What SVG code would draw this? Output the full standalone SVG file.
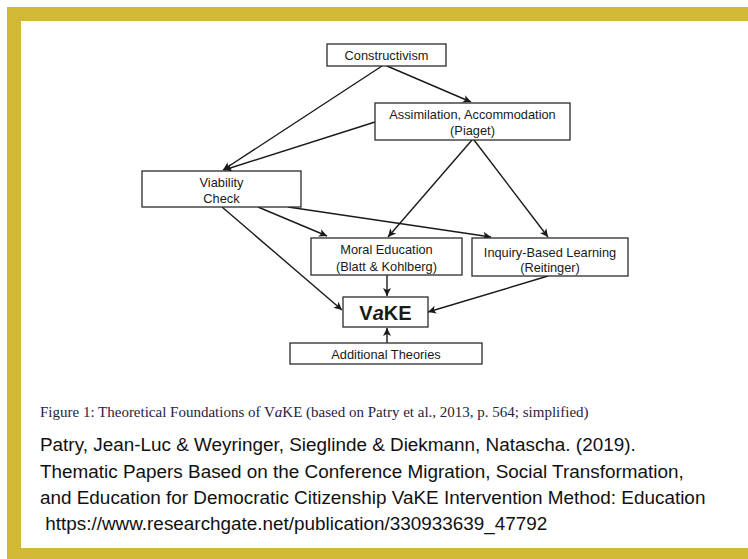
<svg xmlns="http://www.w3.org/2000/svg" width="748" height="559" viewBox="0 0 748 559">
  <style>
    .box { fill: #ffffff; stroke: #2b2b2b; stroke-width: 1.3; }
    .lbl { font-family: "Liberation Sans", Arial, sans-serif; font-size: 12.8px; fill: #1a1a1a; text-anchor: middle; }
    .edge { stroke: #1a1a1a; stroke-width: 1.4; fill: none; marker-end: url(#arrow); }
    .cap { font-family: "Liberation Serif", "Times New Roman", serif; font-size: 15px; fill: #1f2440; }
    .cite { font-family: "Liberation Sans", Arial, sans-serif; font-size: 18.9px; fill: #111111; }
  </style>
  <defs>
    <marker id="arrow" markerUnits="userSpaceOnUse" markerWidth="10" markerHeight="10" viewBox="0 0 10 10" refX="9" refY="5" orient="auto">
      <path d="M1,1 L9,5 L1,9 L3,5 Z" fill="#1a1a1a"/>
    </marker>
  </defs>

  <!-- page background and gold frame -->
  <rect x="0" y="0" width="748" height="559" fill="#ffffff"/>
  <rect x="7" y="7" width="741" height="14" fill="#d1b935"/>
  <rect x="7" y="7" width="14" height="552" fill="#d1b935"/>
  <rect x="7" y="548" width="741" height="11" fill="#d1b935"/>

  <!-- connectors -->
  <g id="connectors">
    <line class="edge" x1="387" y1="66" x2="471" y2="102"/>
    <line class="edge" x1="382" y1="66" x2="223" y2="170"/>
    <line class="edge" x1="375" y1="122" x2="224" y2="170"/>
    <line class="edge" x1="472" y1="140" x2="388" y2="237"/>
    <line class="edge" x1="474" y1="140" x2="548" y2="237"/>
    <line class="edge" x1="258" y1="207" x2="327" y2="236"/>
    <line class="edge" x1="288" y1="207" x2="491" y2="237"/>
    <line class="edge" x1="222" y1="207" x2="342" y2="310"/>
    <line class="edge" x1="387" y1="275" x2="387" y2="296"/>
    <line class="edge" x1="548" y1="276" x2="428" y2="312"/>
    <line class="edge" x1="387" y1="343" x2="387" y2="328"/>
  </g>

  <!-- nodes -->
  <g id="constructivism">
    <rect class="box" x="327" y="44" width="119" height="22"/>
    <text class="lbl" x="386.5" y="60">Constructivism</text>
  </g>
  <g id="assimilation">
    <rect class="box" x="375" y="103" width="195" height="37"/>
    <text class="lbl" x="472.5" y="119">Assimilation, Accommodation</text>
    <text class="lbl" x="472.5" y="135">(Piaget)</text>
  </g>
  <g id="viability">
    <rect class="box" x="142" y="171" width="159" height="36"/>
    <text class="lbl" x="221.5" y="186.5">Viability</text>
    <text class="lbl" x="221.5" y="202.5">Check</text>
  </g>
  <g id="moral-education">
    <rect class="box" x="311" y="238" width="151" height="37"/>
    <text class="lbl" x="386.5" y="253.5">Moral Education</text>
    <text class="lbl" x="386.5" y="270.5">(Blatt &amp; Kohlberg)</text>
  </g>
  <g id="inquiry-based-learning">
    <rect class="box" x="472" y="238" width="156" height="38"/>
    <text class="lbl" x="550" y="256.5">Inquiry-Based Learning</text>
    <text class="lbl" x="550" y="271.5">(Reitinger)</text>
  </g>
  <g id="vake">
    <rect class="box" x="343" y="297" width="85" height="30"/>
    <text class="lbl" x="385.5" y="320" style="font-size:20px;font-weight:bold">V<tspan font-style="italic">a</tspan>KE</text>
  </g>
  <g id="additional-theories">
    <rect class="box" x="290" y="343" width="192" height="21"/>
    <text class="lbl" x="386" y="358.5">Additional Theories</text>
  </g>

  <!-- caption and source -->
  <text class="cap" x="40" y="417">Figure 1: Theoretical Foundations of V<tspan font-style="italic">a</tspan>KE (based on Patry et al., 2013, p. 564; simplified)</text>
  <text class="cite" x="40" y="451">Patry, Jean-Luc &amp; Weyringer, Sieglinde &amp; Diekmann, Natascha. (2019).</text>
  <text class="cite" x="40" y="478">Thematic Papers Based on the Conference Migration, Social Transformation,</text>
  <text class="cite" x="40" y="504">and Education for Democratic Citizenship VaKE Intervention Method: Education</text>
  <text class="cite" x="40" y="530" xml:space="preserve"> https://www.researchgate.net/publication/330933639_47792</text>
</svg>
